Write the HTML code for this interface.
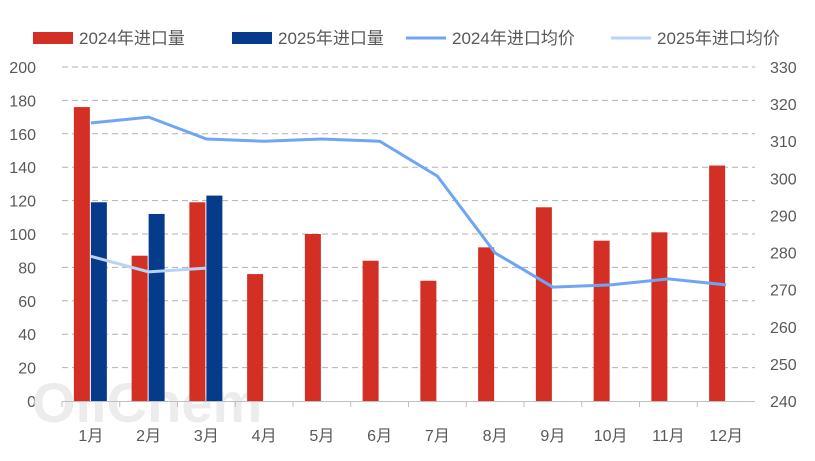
<!DOCTYPE html>
<html><head><meta charset="utf-8"><style>
body{margin:0;background:#fff;}
svg{display:block;font-family:"Liberation Sans","Noto Sans CJK SC",sans-serif;}
</style></head><body>
<svg id="chart" width="815" height="461"></svg>
<script>
const months=["1月","2月","3月","4月","5月","6月","7月","8月","9月","10月","11月","12月"];
const vol2024=[176,87,119,76,100,84,72,92,116,96,101,141];
const vol2025=[119,112,123];
const price2024=[314.9,316.5,310.6,310,310.6,310,300.6,279.9,270.7,271.3,272.9,271.3];
const price2025=[279,274.8,275.8];
const leftTicks=[0,20,40,60,80,100,120,140,160,180,200];
const rightTicks=[240,250,260,270,280,290,300,310,320,330];

const NS="http://www.w3.org/2000/svg";
const svg=document.getElementById('chart');
const L=62,R=755,T=67,B=401;
const bw=(R-L)/months.length;
const xC=i=>L+bw*(i+0.5);
const yL=v=>B-(v-0)/200*(B-T);
const yR=v=>B-(v-240)/90*(B-T);
function el(tag,attrs,parent){const e=document.createElementNS(NS,tag);for(const k in attrs)e.setAttribute(k,attrs[k]);(parent||svg).appendChild(e);return e;}

// grid
leftTicks.forEach((t,i)=>{
  if(t>0){const g=el('line',{x1:L,x2:R,y1:yL(t),y2:yL(t),stroke:'#b0b0b0','stroke-dasharray':'6,4','stroke-width':1});
  
  }
  const tx=el('text',{x:36,y:yL(t)+6,'text-anchor':'end','font-size':16,fill:'#595959'});tx.textContent=t;
  
  
});
rightTicks.forEach(t=>{
  const tx=el('text',{x:770,y:yR(t)+6,'font-size':16,fill:'#595959'});tx.textContent=t;
  
  
});
// watermark
const wm=el('text',{x:32,y:422,'font-size':56,'font-weight':'bold',fill:'#ececec'});wm.textContent='OilChem';


// axis
const ax=el('line',{x1:L,x2:R,y1:B+0.5,y2:B+0.5,stroke:'#bfbfbf'});


months.forEach((m,i)=>{
  const tk=el('line',{x1:L+bw*i,x2:L+bw*i,y1:B,y2:B+6,stroke:'#bfbfbf'});
  
  
  const tx=el('text',{x:xC(i),y:441,'text-anchor':'middle','font-size':16,fill:'#595959'});tx.textContent=m;
  
  
});
// bars
const w=16;
vol2024.forEach((v,i)=>{
  const r=el('rect',{x:xC(i)-w-1,y:yL(v),width:w,height:B-yL(v),fill:'#d42f25'});
  
  
});
vol2025.forEach((v,i)=>{
  const r=el('rect',{x:xC(i),y:yL(v),width:w,height:B-yL(v),fill:'#063a8a'});
  
  
});
// lines
const p1=el('polyline',{points:price2024.map((v,i)=>xC(i)+','+yR(v)).join(' '),fill:'none',stroke:'#6ea6f5','stroke-width':3});


const p2=el('polyline',{points:price2025.map((v,i)=>xC(i)+','+yR(v)).join(' '),fill:'none',stroke:'#b7d3f6','stroke-width':3});


// legend
const leg=[['rect','#d42f25','2024年进口量',33],['rect','#063a8a','2025年进口量',232],['line','#6ea6f5','2024年进口均价',406],['line','#b7d3f6','2025年进口均价',611]];
leg.forEach(([k,c,t,x])=>{
  const g=el('g',{});
  
  
  if(k==='rect')el('rect',{x:x,y:32,width:40,height:12,fill:c},g);
  else el('line',{x1:x,x2:x+40,y1:38,y2:38,stroke:c,'stroke-width':3},g);
  const tx=el('text',{x:x+46,y:44,'font-size':17,fill:'#595959'},g);tx.textContent=t;
});
</script>
</body></html>
